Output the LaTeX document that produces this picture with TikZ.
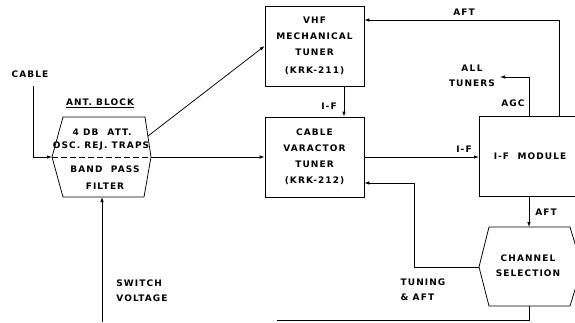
\documentclass[tikz,border=0pt]{standalone}
\usepackage{fontspec}
\newfontfamily\lettering[LetterSpace=12]{DejaVu Sans}
\usetikzlibrary{arrows.meta}

\begin{document}
\begin{tikzpicture}[x=1pt,y=-1pt,
  tuner/.style={draw,line width=0.75pt,minimum width=99pt,minimum height=80pt,inner sep=0pt,align=center,
    font=\lettering\bfseries\fontsize{9}{16}\selectfont},
  lab/.style={font=\lettering\bfseries\fontsize{9}{15}\selectfont,align=center,inner sep=1pt},
  w/.style={line width=0.75pt},
  sig/.style={w,-{Latex[length=5pt,width=3.5pt]}}]
  \useasboundingbox (0,0) rectangle (575,322);
  \clip (0,0) rectangle (575,322);
  % antenna block, split by a dashed line
  \coordinate (ant-nw) at (63,117);  \coordinate (ant-ne) at (145,117);
  \coordinate (ant-e) at (151,157);  \coordinate (ant-se) at (144,197);
  \coordinate (ant-sw) at (63,197);  \coordinate (ant-w) at (52,157);
  \coordinate (ant-s) at (102,197);  \coordinate (ant-out) at (148,136);
  \draw[w] (ant-nw)--(ant-ne)--(ant-e)--(ant-se)--(ant-sw)--(ant-w)--cycle;
  \draw[w,dashed,dash pattern=on 6pt off 3pt] (ant-w)--(ant-e);
  % tuners and module
  \node[tuner] (vhf) at (314.5,46) {VHF\\MECHANICAL\\TUNER\\[2pt](KRK-211)};
  \node[tuner] (cvt) at (314.5,157) {CABLE\\VARACTOR\\TUNER\\(KRK-212)};
  \node[tuner,anchor=north west,minimum width=110pt] (ifm) at (479,116) {};
  % channel selection (runs past the right edge)
  \coordinate (chs-nw) at (489,227); \coordinate (chs-ne) at (570,227);
  \coordinate (chs-e) at (582,267);  \coordinate (chs-se) at (570,306);
  \coordinate (chs-sw) at (489,306); \coordinate (chs-w) at (479,267);
  \coordinate (chs-n) at (529,227);  \coordinate (chs-s) at (529,306);
  \draw[w] (chs-nw)--(chs-ne)--(chs-e)--(chs-se)--(chs-sw)--(chs-w)--cycle;
  % free ends
  \coordinate (cable) at (33,86);
  \coordinate (switch) at (102,322);
  \coordinate (aft-up) at (559,116);
  \coordinate (agc-up) at (529,116);
  \coordinate (alltuners) at (500,77);
  \coordinate (aft-dn) at (529,196);
  \coordinate (ret) at (277,320.5);
  % connectors
  \draw[sig] (cable) |- (ant-w);
  \draw[sig] (switch) -- (ant-s);
  \draw[sig] (ant-out) -- (vhf.west);
  \draw[sig] (ant-e) -- (cvt.west);
  \draw[sig] ([xshift=29.5pt]vhf.south) -- ([xshift=29.5pt]cvt.north);
  \draw[sig] (cvt.east) -- (cvt.east -| ifm.west);
  \draw[sig] (aft-up) |- ([yshift=26pt]vhf.east);
  \draw[sig] (agc-up) |- (alltuners);
  \draw[sig] (aft-dn) -- (chs-n);
  \draw[sig] (chs-w) -- ++(-65,0) |- ([yshift=-26pt]cvt.east);
  \draw[w] (chs-s) |- (ret);
  % labels
  \node[lab] (l-cable) at (30,74) {CABLE};
  \node[lab] (l-ant) at (100,103) {\underline{ANT.\ BLOCK}};
  \node[lab] (l-att) at (102,132) {4 DB\quad ATT.};
  \node[lab] (l-osc) at (101,146) {OSC. REJ. TRAPS};
  \node[lab] (l-bp) at (105,169) {BAND\ \ PASS};
  \node[lab] (l-filt) at (105,186) {FILTER};
  \node[lab,align=left] (l-sw) at (142,291) {SWITCH\\VOLTAGE};
  \node[lab] (l-if1) at (329,106) {I-F};
  \node[lab] (l-aft1) at (464,12) {AFT};
  \node[lab] (l-all) at (472,76) {A\,L\,L\\TUNERS};
  \node[lab] (l-agc) at (513,103) {AGC};
  \node[lab] (l-if2) at (464,149) {I-F};
  \node[lab] (l-ifm) at (530,156) {I-F\ \ MODULE};
  \node[lab] (l-aft2) at (546,212) {AFT};
  \node[lab] (l-chs) at (528,266) {CHANNEL\\SELECTION};
  \node[lab,align=left] (l-tun) at (423,290) {TUNING\\\&\ AFT};
\end{tikzpicture}
\end{document}
